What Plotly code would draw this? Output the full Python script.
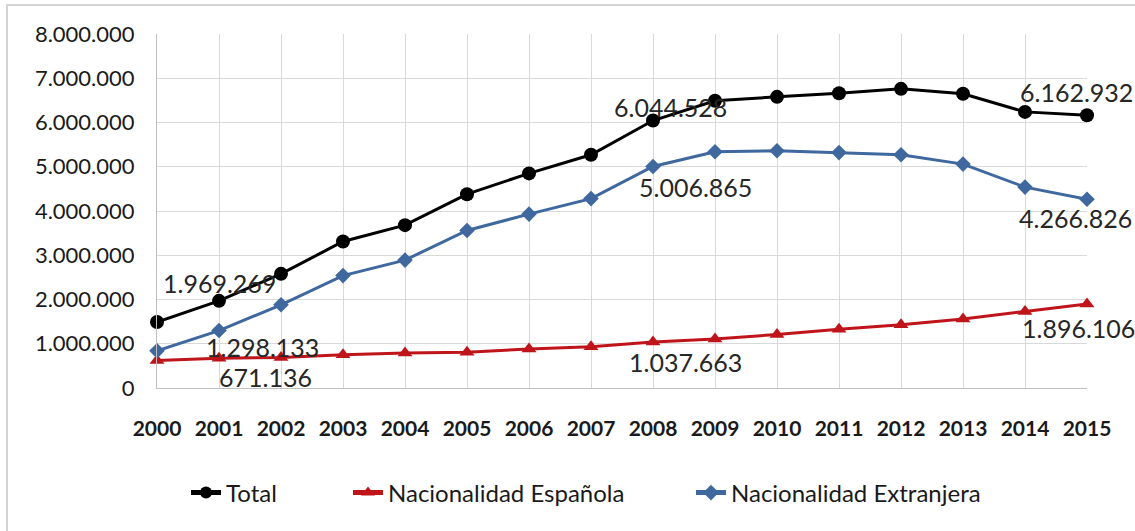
import plotly.graph_objects as go

years = list(range(2000, 2016))
total = [1490000, 1969269, 2580000, 3310000, 3680000, 4380000, 4850000, 5270000,
         6044528, 6490000, 6580000, 6660000, 6760000, 6650000, 6240000, 6162932]
espanola = [620000, 671136, 690000, 750000, 790000, 810000, 880000, 930000,
            1037663, 1110000, 1210000, 1330000, 1430000, 1560000, 1730000, 1896106]
extranjera = [840000, 1298133, 1880000, 2540000, 2890000, 3560000, 3930000, 4280000,
              5006865, 5340000, 5360000, 5320000, 5270000, 5060000, 4540000, 4266826]
y_ticks = [0, 1000000, 2000000, 3000000, 4000000, 5000000, 6000000, 7000000, 8000000]

# (series, year index, xshift, yshift) for the data labels shown
labels = [
    (total, 1, 0, 18), (extranjera, 1, 43, -16), (espanola, 1, 46, -19),
    (total, 8, 17, 14), (extranjera, 8, 42, -21), (espanola, 8, 32, -20),
    (total, 15, -11, 23), (extranjera, 15, -12, -19), (espanola, 15, -9, -24),
]

BLACK = "#000000"
RED = "#C0141B"
BLUE = "#3E689E"
FONT = "Lato"

L, R, T, B = 157, 48, 34, 143
W, H = 1135, 531
pw, ph = W - L - R, H - T - B

fig = go.Figure()
fig.add_trace(go.Scatter(x=years, y=total, name="Total", mode="lines+markers",
                         line=dict(color=BLACK, width=3), cliponaxis=False, legend="legend",
                         marker=dict(symbol="circle", size=14, color=BLACK)))
fig.add_trace(go.Scatter(x=years, y=espanola, name="Nacionalidad Española", mode="lines+markers",
                         line=dict(color=RED, width=3), cliponaxis=False, legend="legend2",
                         marker=dict(symbol="triangle-up", size=13, color=RED)))
fig.add_trace(go.Scatter(x=years, y=extranjera, name="Nacionalidad Extranjera", mode="lines+markers",
                         line=dict(color=BLUE, width=3), cliponaxis=False, legend="legend3",
                         marker=dict(symbol="diamond", size=12, color=BLUE)))

def fmt(v):
    return f"{v:,}".replace(",", ".")

for series, i, dx, dy in labels:
    fig.add_annotation(x=years[i], y=series[i], text=fmt(series[i]), showarrow=False,
                       xanchor="center", yanchor="middle", xshift=dx, yshift=dy,
                       font=dict(family=FONT, size=25, color="#262626"))

fig.add_shape(type="rect", xref="paper", yref="paper",
              x0=(7 - L) / pw, x1=(W + 10 - L) / pw,
              y0=(H - B - (H + 10)) / ph, y1=(H - B - 5) / ph,
              line=dict(color="#D4D4D4", width=2), layer="below")

def leg(px):
    return dict(orientation="h", x=(px - L) / pw, y=(H - B - 493) / ph,
                xanchor="left", yanchor="middle", itemsizing="constant",
                font=dict(family=FONT, size=24, color="#1a1a1a"),
                bgcolor="rgba(0,0,0,0)")

fig.update_layout(
    width=W, height=H,
    margin=dict(l=L, r=R, t=T, b=B),
    paper_bgcolor="white", plot_bgcolor="white",
    separators=",.",
    font=dict(family=FONT, color="#1a1a1a"),
    showlegend=True,
    legend=leg(186), legend2=leg(348), legend3=leg(691),
    xaxis=dict(range=[2000, 2015], tickvals=years, ticktext=[str(y) for y in years],
               showgrid=True, gridcolor="#D9D9D9", gridwidth=1,
               showline=True, linecolor="#BFBFBF", linewidth=1,
               ticks="", ticklabelstandoff=22,
               tickfont=dict(family=FONT, size=21, color="#1a1a1a", weight="bold"),
               zeroline=False, fixedrange=True),
    yaxis=dict(range=[0, 8000000], tickvals=y_ticks, tickformat=",d",
               showgrid=True, gridcolor="#D9D9D9", gridwidth=1,
               showline=True, linecolor="#BFBFBF", linewidth=1,
               ticks="", ticklabelstandoff=17,
               tickfont=dict(family=FONT, size=22, color="#1a1a1a"),
               zeroline=False, fixedrange=True),
)

fig.write_html("out.html")
